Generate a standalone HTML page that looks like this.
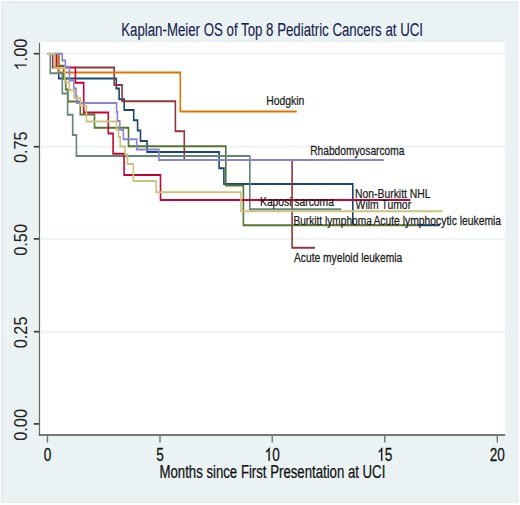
<!DOCTYPE html>
<html><head><meta charset="utf-8">
<style>
html,body{margin:0;padding:0;background:#fff;width:520px;height:505px;overflow:hidden}
svg{display:block;position:absolute;left:0;top:0}
text{font-family:"Liberation Sans",sans-serif;stroke-width:0.25px;paint-order:normal}
</style></head>
<body>
<svg width="520" height="505" viewBox="0 0 520 505">
<!-- graph region -->
<rect x="1.1" y="1.3" width="517.2" height="501.7" fill="#EAF2F3"/>
<path d="M1.1,1.3 H518.3 V503 H1.1 Z M3.1,3.3 V502 H517.3 V3.3 Z" fill="#E4ECEE" fill-rule="evenodd"/>
<!-- plot region -->
<rect x="39.5" y="42.2" width="465.5" height="392.4" fill="#fff"/>
<!-- gridlines -->
<g stroke="#EAF2F3" stroke-width="1.8">
<line x1="41" y1="53.7" x2="505" y2="53.7"/>
<line x1="41" y1="146.7" x2="505" y2="146.7"/>
<line x1="41" y1="238.9" x2="505" y2="238.9"/>
<line x1="41" y1="331.7" x2="505" y2="331.7"/>
</g>
<!-- axes -->
<g fill="none">
<line x1="39.5" y1="42.8" x2="39.5" y2="435.4" stroke="#666" stroke-width="1.2"/>
<line x1="38.9" y1="435.0" x2="505.2" y2="435.0" stroke="#4f4f4f" stroke-width="1.6"/>
</g>
<g stroke="#3c3c3c" stroke-width="1.7">
<line x1="33.8" y1="53.7" x2="39" y2="53.7"/>
<line x1="33.8" y1="146.7" x2="39" y2="146.7"/>
<line x1="33.8" y1="238.9" x2="39" y2="238.9"/>
<line x1="33.8" y1="331.7" x2="39" y2="331.7"/>
<line x1="33.8" y1="423.9" x2="39" y2="423.9"/>
</g>
<g stroke="#6c6c6c" stroke-width="1.3">
<line x1="47.5" y1="435.8" x2="47.5" y2="442.6"/>
<line x1="160.0" y1="435.8" x2="160.0" y2="442.6"/>
<line x1="272.2" y1="435.8" x2="272.2" y2="442.6"/>
<line x1="384.8" y1="435.8" x2="384.8" y2="442.6"/>
<line x1="497.3" y1="435.8" x2="497.3" y2="442.6"/>
</g>
<!-- y labels -->
<g font-size="17.5" fill="#222" stroke="none">
<g transform="translate(26.6,54.6) rotate(-90) scale(0.93,1)"><path stroke-width="29" d="M763 0H583V1147Q518 1085 412.5 1023Q307 961 223 930V1104Q374 1175 487 1276Q600 1377 647 1472H763Z" transform="translate(-17.03,0) scale(0.00854,-0.00854)"/><text x="-7.30" y="0">.00</text></g>
<text transform="translate(26.6,147.3) rotate(-90) scale(0.93,1)" text-anchor="middle">0.75</text>
<text transform="translate(26.6,239.9) rotate(-90) scale(0.93,1)" text-anchor="middle">0.50</text>
<text transform="translate(26.6,332.4) rotate(-90) scale(0.93,1)" text-anchor="middle">0.25</text>
<text transform="translate(26.6,424.9) rotate(-90) scale(0.93,1)" text-anchor="middle">0.00</text>
</g>
<!-- x labels -->
<g font-size="18" fill="#111" stroke="#111">
<text transform="translate(47.5,460.7) scale(0.755,1)" text-anchor="middle">0</text>
<text transform="translate(160.1,460.7) scale(0.755,1)" text-anchor="middle">5</text>
<g transform="translate(272.2,460.7) scale(0.755,1)"><path stroke-width="28" d="M763 0H583V1147Q518 1085 412.5 1023Q307 961 223 930V1104Q374 1175 487 1276Q600 1377 647 1472H763Z" transform="translate(-10.01,0) scale(0.00879,-0.00879)"/><text x="0.00" y="0">0</text></g>
<g transform="translate(384.8,460.7) scale(0.755,1)"><path stroke-width="28" d="M763 0H583V1147Q518 1085 412.5 1023Q307 961 223 930V1104Q374 1175 487 1276Q600 1377 647 1472H763Z" transform="translate(-10.01,0) scale(0.00879,-0.00879)"/><text x="0.00" y="0">5</text></g>
<text transform="translate(497.3,460.7) scale(0.755,1)" text-anchor="middle">20</text>
</g>
<!-- titles -->
<text transform="translate(272.1,35.9) scale(0.737,1)" font-size="18" fill="#172150" stroke="#172150" style="stroke-width:0.12px" text-anchor="middle">Kaplan-Meier OS of Top 8 Pediatric Cancers at UCI</text>
<text transform="translate(272.4,478.1) scale(0.734,1)" font-size="18" fill="#111" stroke="#111" text-anchor="middle">Months since First Presentation at UCI</text>
<!-- curves -->
<g fill="none" stroke-width="2.0" stroke-linejoin="miter" stroke-linecap="butt" transform="scale(0.8,1)">
<path stroke="#1A476F" d="M73.375,53.7 V78.5 H145.375 V88.5 H148.875 V99.2 H155.250 V109.9 H167.125 V120.3 H172.000 V130.6 H175.625 V141 H183.875 V151.9 H273.875 V168.3 H279.875 V184 H441.000 V225.2 M520.625,225.2 H549.500"/>
<path stroke="#90353B" d="M65.875,53.7 V67.5 H70.375 M94.250,67.5 H142.750 V84.9 H152.625 V101.2 H219.250 V131.2 H230.375 V160.1 M365.125,160.1 V247.7 H393.625"/>
<path stroke="#55752F" d="M73.000,53.7 V65.8 H79.500 V78.5 H82.125 V89.4 H84.875 V101.4 H100.375 V114.4 H118.125 V127.7 H160.625 V146.3 H282.250 V185.5 H304.250 V225.2 H520.625"/>
<path stroke="#E07400" d="M72.875,53.7 V72.6 H225.375 V111.4 H370.875"/>
<path stroke="#648679" d="M62.875,53.7 V73.2 H77.875 V93.6 H84.500 V114.7 H90.875 V134.9 H95.500 V155.9 H312.250 V209.3 H426.625"/>
<path stroke="#C10534" d="M70.375,53.7 V67.5 H94.250 V82.7 H104.625 V112.6 H135.375 V133.4 H141.375 V153.8 H155.125 V175.0 H200.625 V200.0 H513.000"/>
<path stroke="#8A84CE" d="M59.125,53.7 H77.750 V60.6 H81.625 V66.8 H86.875 V80.6 H92.375 V88.6 H95.000 V96 H96.000 V103 H145.750 V112 H146.750 V121 H149.750 V129.7 H154.250 V139.3 H170.875 V149.5 H198.625 V160.1 H479.875"/>
<path stroke="#CAC27E" d="M59.125,53.7 H68.000 V67.9 H81.250 V82.5 H86.625 V90.2 H92.625 V98 H100.375 V105.7 H108.000 V121.4 H145.750 V129.7 H148.250 V137.1 H150.250 V146.6 H156.250 V154.6 H159.375 V163.9 H166.625 V181 H195.125 V192.2 H301.250 V211.3 H553.250"/>
</g>
<!-- curve labels -->
<g font-size="13.5" fill="#1a1a1a" stroke="#1a1a1a">
<text transform="translate(266.2,104.9) scale(0.77,1)">Hodgkin</text>
<text transform="translate(310.2,155.2) scale(0.757,1)">Rhabdomyosarcoma</text>
<text transform="translate(355.0,197.7) scale(0.77,1)">Non-Burkitt NHL</text>
<text transform="translate(355.6,209.4) scale(0.772,1)">Wilm Tumor</text>
<text transform="translate(260.0,205.9) scale(0.765,1)">Kaposi sarcoma</text>
<text transform="translate(293.4,224.6) scale(0.752,1)">Burkitt lymphoma</text>
<text transform="translate(373.4,224.6) scale(0.768,1)">Acute lymphocytic leukemia</text>
<text transform="translate(294.0,262.2) scale(0.76,1)">Acute myeloid leukemia</text>
</g>
</svg>
</body></html>
